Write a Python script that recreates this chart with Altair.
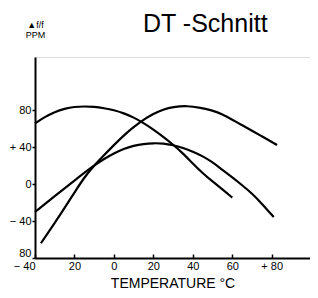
import altair as alt
import pandas as pd

# Curve A: starts high on the left, peaks near -15 °C
a_x = [-40, -35, -30, -25, -20, -15, -10, -5, 0, 5, 10, 15, 20, 25, 30, 35, 40, 45, 50, 55, 60]
a_y = [66, 73, 78.5, 82, 84, 84.5, 84, 82.5, 80.5, 77, 72.5, 66.5, 59.5, 51.5, 43, 33.5, 22.5, 12, 3, -5.5, -14.5]
# Curve B: starts low on the left, peaks near +37 °C
b_x = [-37, -30, -25, -20, -15, -11, -5, 0, 5, 10, 15, 20, 25, 30, 37, 44, 50, 55, 60, 65, 70, 75, 80, 82.7]
b_y = [-64, -42, -25.6, -9, 7.5, 18, 31.5, 42.5, 53, 62, 70, 76.5, 81, 83.8, 85.2, 83, 80, 76, 70, 64, 58, 52, 46, 42.5]
# Curve C: flatter curve, peaks near +20 °C
c_x = [-40, -30, -20, -11, -5, 0, 5, 10, 15, 20, 25, 30, 35, 40, 45, 50, 55, 60, 65, 70, 75, 81]
c_y = [-30, -13, 4, 19, 27.5, 33.5, 38.5, 41.8, 43.8, 44.6, 44.3, 42.5, 39.5, 35.5, 30.5, 24, 15.5, 7.5, -1, -10, -21, -35.6]

x_ticks = [-40, -20, 0, 20, 40, 60, 80]
x_labels = ["\u2212 40", "20", "0", "20", "40", "60", "+ 80"]
y_ticks = [-80, -40, 0, 40, 80]
y_labels = ["80", "\u2212 40", "0", "+ 40", "80"]

rows = []
for name, xs, ys in (("A", a_x, a_y), ("B", b_x, b_y), ("C", c_x, c_y)):
    for xv, yv in zip(xs, ys):
        rows.append({"curve": name, "x": xv, "y": yv})
df = pd.DataFrame(rows)


def label_expr(values, labels):
    expr = "datum.label"
    for v, l in zip(values, labels):
        expr = f"datum.value == {v} ? '{l}' : (" + expr + ")"
    return expr


FONT = "Liberation Sans"
xscale = alt.Scale(domain=[-40, 99.4], nice=False, zero=False)
yscale = alt.Scale(domain=[-80, 138], nice=False, zero=False)

yaxis = alt.Axis(
    values=y_ticks, labelExpr=label_expr(y_ticks, y_labels), grid=False,
    domainColor="black", domainWidth=2, tickColor="black", tickWidth=1.5, tickSize=3,
    labelColor="black", labelFont=FONT, labelFontSize=11, labelPadding=1,
    labelFlush=True,
    title=["\u25b2f/f", "PPM"], titleAngle=0, titleX=0, titleY=-30, titleAlign="center",
    titleBaseline="alphabetic", titleFont=FONT, titleFontSize=9, titleFontWeight="normal",
    titleColor="black", titleLineHeight=10,
)

xaxis_main = alt.Axis(
    orient="bottom", values=x_ticks, labelExpr=label_expr(x_ticks, x_labels), grid=False,
    ticks=False, domainColor="black", domainWidth=2,
    labelColor="black", labelFont=FONT, labelFontSize=11, labelPadding=2,
    labelAlign={"condition": {"test": "datum.value == -40", "value": "right"}, "value": "center"},
    title="TEMPERATURE \u00b0C", titleFont=FONT, titleFontSize=14, titleFontWeight="normal",
    titleColor="black", titlePadding=5,
)
xaxis_ticks = alt.Axis(
    orient="bottom", values=x_ticks, labels=False, domain=False, grid=False,
    ticks=True, tickSize=4, offset=-4, tickColor="black", tickWidth=1.5, title=None,
)

lines = alt.Chart(df).mark_line(color="black", strokeWidth=2.2, interpolate="basis").encode(
    x=alt.X("x:Q", scale=xscale, axis=xaxis_main),
    y=alt.Y("y:Q", scale=yscale, axis=yaxis),
    detail="curve:N",
)
tick_layer = alt.Chart(df).mark_line(opacity=0).encode(
    x=alt.X("x:Q", scale=xscale, axis=xaxis_ticks),
    y=alt.Y("y:Q", scale=yscale, axis=yaxis),
    detail="curve:N",
)

chart = alt.layer(lines, tick_layer).resolve_axis(x="independent").properties(
    width=275, height=201,
    autosize=alt.AutoSizeParams(type="none"),
    padding={"left": 27, "top": 49, "right": 0, "bottom": 38},
    title=alt.TitleParams(
        "DT -Schnitt", anchor="start", frame="group", dx=108, dy=21,
        font=FONT, fontSize=25, fontWeight="normal", color="black",
    ),
).configure_view(stroke=None).configure(background="white")

chart.save("out.html", embed_options={"renderer": "svg", "actions": False})
